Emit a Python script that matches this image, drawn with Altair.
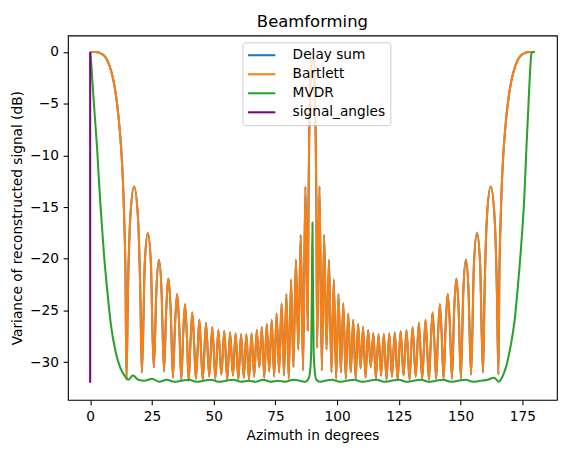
import altair as alt
import pandas as pd

# ---------------- data ----------------
title_text = "Beamforming"
series_names = ["Delay sum", "Bartlett", "MVDR", "signal_angles"]
series_colors = ["#1f77b4", "#ff7f0e", "#2ca02c", "#800080"]

x_ticks = [0, 25, 50, 75, 100, 125, 150, 175]
y_ticks = [-30, -25, -20, -15, -10, -5, 0]

bartlett_x_left = [
    0, 2, 3, 4, 5, 6, 7, 8, 9, 10, 11, 12, 12.8, 13.4, 13.9, 14.3, 14.7,
    15.3, 16.25, 17.8, 19.35, 20.3, 20.9,
    21.4, 22.1, 23.35, 24.6, 25.3, 25.8,
    26.8, 27.85, 28.9, 29.9,
    30.8, 31.7, 32.6, 33.5,
    34.35, 35.2, 36.05, 36.9,
    37.65, 38.4, 39.15, 39.9,
    40.6, 41.35, 42.1, 42.8,
    43.5, 44.2, 44.9, 45.6,
    46.9, 48.2, 49.45, 50.7, 51.9, 53.1, 54.3, 55.5, 56.65, 57.8, 58.9, 60.0,
    61.1, 62.2, 63.25, 64.3, 65.35, 66.4, 67.45, 68.5, 69.5, 70.5, 71.5, 72.5,
    73.5, 74.5, 75.5, 76.5, 77.5, 78.5, 79.45, 80.4, 81.35, 82.3, 83.3, 84.3,
    85.25, 86.2, 87.15, 88.1,
    88.4, 88.7, 89.0, 89.3, 89.6, 90.0,
]
bartlett_y_left = [
    0, 0, -0.03, -0.1, -0.22, -0.45, -0.85, -1.45, -2.3, -3.5, -5.2, -7.6, -10.3, -13.3, -17.0, -21.5, -31.7,
    -23.2, -16.0, -13.0, -16.0, -23.2, -31.0,
    -27.7, -20.5, -17.5, -20.5, -27.7, -30.5,
    -23.1, -20.1, -23.1, -30.9,
    -24.9, -21.9, -24.9, -31.5,
    -26.4, -23.4, -26.4, -31.7,
    -27.4, -24.4, -27.4, -31.8,
    -28.2, -25.2, -28.2, -31.6,
    -28.9, -25.9, -28.9, -31.7,
    -26.2, -31.4, -26.6, -31.6, -26.9, -31.2, -27.0, -31.7, -27.1, -31.3, -27.2, -31.7,
    -27.3, -31.5, -27.3, -31.7, -27.2, -31.4, -26.9, -30.5, -26.6, -31.5, -26.3, -30.9,
    -25.9, -31.4, -25.3, -31.0, -24.3, -31.3, -23.4, -31.6, -22.0, -30.5, -20.1, -28.8,
    -17.7, -30.8, -13.0, -26.9,
    -14.6, -8.1, -4.3, -2.0, -0.6, 0.0,
]
bartlett_x_right = [
    90.4, 90.7, 91.0, 91.3, 91.6, 91.9,
    92.85, 93.8, 94.75, 95.7, 96.7, 97.7, 98.65, 99.6, 100.55, 101.5, 102.5, 103.5,
    104.5, 105.5, 106.5, 107.5, 108.5, 109.5, 110.5, 111.5, 112.55, 113.6, 114.65, 115.7,
    116.75, 117.8, 118.9, 120.0, 121.1, 122.2, 123.35, 124.5, 125.7, 126.9, 128.1, 129.3,
    130.55, 131.8, 133.1, 134.4,
    135.1, 135.8, 136.5, 137.2,
    137.9, 138.65, 139.4, 140.1,
    140.85, 141.6, 142.35, 143.1,
    143.95, 144.8, 145.65, 146.5,
    147.4, 148.3, 149.2, 150.1,
    151.1, 152.15, 153.2, 154.2,
    154.7, 155.4, 156.65, 157.9, 158.6, 159.1,
    159.7, 160.65, 162.2, 163.75, 164.7, 165.3,
    165.7, 166.1, 166.6, 167.2, 168, 169, 170, 171, 172, 173, 174, 175, 176, 177, 178, 180,
]
bartlett_y_right = [
    -0.6, -2.0, -4.3, -8.1, -14.6, -28.6,
    -13.0, -30.8, -17.7, -28.8, -20.1, -31.0, -22.0, -31.6, -23.4, -31.0, -24.3, -31.6,
    -25.3, -31.0, -25.9, -31.6, -26.3, -30.6, -26.6, -31.5, -26.9, -30.5, -27.2, -31.6,
    -27.3, -31.3, -27.3, -31.7, -27.2, -31.4, -27.1, -31.7, -27.0, -31.3, -26.9, -31.7,
    -26.6, -31.4, -26.2, -31.6,
    -28.9, -25.9, -28.9, -31.7,
    -28.2, -25.2, -28.2, -31.6,
    -27.4, -24.4, -27.4, -31.6,
    -26.4, -23.4, -26.4, -31.6,
    -24.9, -21.9, -24.9, -31.6,
    -23.1, -20.1, -23.1, -31.2,
    -27.7, -20.5, -17.5, -20.5, -27.7, -31.0,
    -23.2, -16.0, -13.0, -16.0, -23.2, -31.2,
    -21.5, -17.0, -13.3, -10.3, -7.6, -5.2, -3.5, -2.3, -1.45, -0.85, -0.45, -0.22, -0.1, -0.03, 0, 0,
]

mvdr_x = [
    0, 0.3, 0.7, 1.2, 2.0, 2.8, 3.5, 4.2, 5.0, 5.6,
    6.9, 8.3, 10.3, 12.3, 14.2, 15.5, 17.3, 19.5, 22, 25,
    28, 31, 34, 37, 40, 43, 46, 49, 52, 55,
    58, 61, 64, 67, 70, 73, 76, 79, 82, 85,
    87, 88.4, 89.0, 89.5, 89.8, 90.0, 90.2, 90.5, 91.0, 91.6,
    93, 95, 98, 101, 104, 107, 110, 113, 116, 119,
    122, 125, 128, 131, 134, 137, 140, 143, 146, 149,
    152, 155, 158, 161, 163.5, 165.5, 166.5, 167.8, 168.8, 169.8,
    170.8, 171.8, 173.1, 174.5, 175.8, 176.7, 177.3, 177.8, 178.3, 178.7,
    179.2, 180,
]
mvdr_y = [
    0, -0.7, -2.1, -3.9, -6.6, -9.3, -12.2, -14.9, -17.6, -19.6,
    -23.0, -26.2, -29.0, -30.6, -31.4, -31.7, -31.3, -31.7, -31.8, -31.6,
    -31.9, -31.7, -31.9, -31.8, -31.7, -31.9, -31.8, -31.7, -31.9, -31.8,
    -31.7, -31.9, -31.8, -31.9, -31.7, -31.9, -31.8, -31.9, -31.7, -31.8,
    -31.9, -31.6, -31.0, -29.0, -22.0, -16.5, -22.0, -29.0, -31.0, -31.7,
    -31.9, -31.8, -31.7, -31.9, -31.8, -31.7, -31.9, -31.8, -31.7, -31.9,
    -31.8, -31.7, -31.9, -31.8, -31.7, -31.9, -31.8, -31.7, -31.9, -31.8,
    -31.7, -31.9, -31.8, -31.7, -31.5, -31.9, -31.6, -30.9, -30.1, -29.0,
    -27.7, -26.1, -22.9, -18.8, -14.0, -9.0, -6.0, -3.4, -1.2, -0.1,
    0, 0,
]

signal_angles = [0]
signal_low = [-32.0]
signal_high = [0.0]

# ---------------- build tables ----------------
bx = bartlett_x_left + bartlett_x_right
by = bartlett_y_left + bartlett_y_right

df_delay = pd.DataFrame({"x": bx, "y": by, "series": "Delay sum"})
df_bart = pd.DataFrame({"x": bx, "y": by, "series": "Bartlett"})
df_mvdr = pd.DataFrame({"x": mvdr_x, "y": mvdr_y, "series": "MVDR"})
df_sig = pd.DataFrame({"x": signal_angles, "y": signal_low, "y2": signal_high,
                       "series": "signal_angles"})
df_title = pd.DataFrame({"t": [title_text]})

FONT = "DejaVu Sans"
LW = 2.08
W, H = 496, 369.6

color = alt.Color(
    "series:N",
    scale=alt.Scale(domain=series_names, range=series_colors),
    legend=alt.Legend(
        title=None, orient="none", legendX=177, legendY=6.9,
        symbolType="M-2,0H2", symbolSize=193, symbolStrokeWidth=LW,
        symbolOffset=6.4,
        labelFont=FONT, labelFontSize=13.9, labelColor="black",
        padding=5.1, rowPadding=4.3, labelOffset=23.4,
        fillColor="rgba(255,255,255,0.8)", strokeColor="#cccccc",
        cornerRadius=2.8,
    ),
)

xenc = alt.X("x:Q", scale=alt.Scale(domain=[-9, 189], nice=False, zero=False),
             axis=alt.Axis(values=x_ticks, title="Azimuth in degrees", format="d"))
yenc = alt.Y("y:Q", scale=alt.Scale(domain=[-33.65, 1.6], nice=False, zero=False),
             axis=alt.Axis(values=y_ticks, title="Variance of reconstructed signal (dB)",
                           format="d"))

def line(df):
    return alt.Chart(df).mark_line(interpolate="monotone", strokeWidth=LW).encode(
        x=xenc, y=yenc, color=color)

rule = alt.Chart(df_sig).mark_rule(strokeWidth=LW).encode(
    x=xenc, y=yenc, y2="y2:Q", color=color)

title_mark = alt.Chart(df_title).mark_text(
    font=FONT, fontSize=16.67, color="black", align="center", baseline="alphabetic"
).encode(text="t:N", x=alt.value(W / 2), y=alt.value(-8.3))

chart = alt.layer(line(df_delay), line(df_bart), line(df_mvdr), rule, title_mark).properties(
    width=W, height=H,
    padding={"left": 60.8, "top": 24.7, "right": 9.2, "bottom": 52.7},
    autosize=alt.AutoSizeParams(type="none"),
).configure_view(
    stroke="black", strokeWidth=1.11
).configure_axis(
    domain=False, grid=False,
    ticks=True, tickColor="black", tickWidth=1.11, tickSize=4.86,
    labelFont=FONT, labelFontSize=13.9, labelColor="black", labelPadding=4.86,
    titleFont=FONT, titleFontSize=13.9, titleFontWeight="normal", titleColor="black",
).configure_axisX(titlePadding=6).configure_axisY(titlePadding=5)

chart.save("out.html", embed_options={"renderer": "svg", "actions": False})
